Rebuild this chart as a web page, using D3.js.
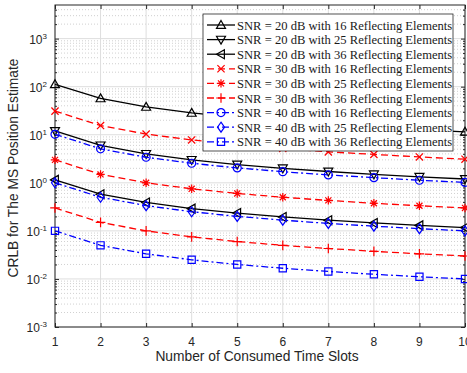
<!DOCTYPE html>
<html>
<head>
<meta charset="utf-8">
<script src="https://cdn.jsdelivr.net/npm/d3@7"></script>
<style>
  body { margin: 0; background: #fff; }
  svg { display: block; }
</style>
</head>
<body>
<svg id="chart"></svg>
<script>
// chart size
var width = 467;
var height = 373;

// data
var slots = [1, 2, 3, 4, 5, 6, 7, 8, 9, 10];
var snr20_16 = [112, 57, 38, 28.5, 23, 19, 16.3, 14.3, 12.7, 11.5];
var snr20_25 = [12, 6.0, 4.0, 3.0, 2.4, 2.0, 1.72, 1.5, 1.33, 1.2];
var snr20_36 = [1.15, 0.58, 0.39, 0.29, 0.235, 0.195, 0.167, 0.146, 0.13, 0.117];
var snr30_16 = [31, 15.5, 10.3, 7.8, 6.2, 5.2, 4.4, 3.9, 3.45, 3.1];
var snr30_25 = [3.0, 1.5, 1.0, 0.75, 0.6, 0.5, 0.43, 0.375, 0.333, 0.3];
var snr30_36 = [0.3, 0.15, 0.1, 0.075, 0.06, 0.05, 0.043, 0.0375, 0.0333, 0.03];
var snr40_16 = [10.2, 5.1, 3.4, 2.55, 2.04, 1.7, 1.46, 1.28, 1.13, 1.02];
var snr40_25 = [1.0, 0.5, 0.335, 0.25, 0.2, 0.167, 0.143, 0.125, 0.111, 0.1];
var snr40_36 = [0.1, 0.05, 0.0333, 0.025, 0.02, 0.0167, 0.0143, 0.0125, 0.0111, 0.01];
var yTicks = [1e-3, 1e-2, 1e-1, 1e0, 1e1, 1e2, 1e3];
var yExp = ["-3", "-2", "-1", "0", "1", "2", "3"];

var series = [
  {name: "SNR = 20 dB with 16 Reflecting Elements", values: snr20_16, color: "#000", dash: null, marker: "triUp"},
  {name: "SNR = 20 dB with 25 Reflecting Elements", values: snr20_25, color: "#000", dash: null, marker: "triDown"},
  {name: "SNR = 20 dB with 36 Reflecting Elements", values: snr20_36, color: "#000", dash: null, marker: "triLeft"},
  {name: "SNR = 30 dB with 16 Reflecting Elements", values: snr30_16, color: "#ff0000", dash: "7,4", marker: "cross"},
  {name: "SNR = 30 dB with 25 Reflecting Elements", values: snr30_25, color: "#ff0000", dash: "7,4", marker: "star"},
  {name: "SNR = 30 dB with 36 Reflecting Elements", values: snr30_36, color: "#ff0000", dash: "7,4", marker: "plus"},
  {name: "SNR = 40 dB with 16 Reflecting Elements", values: snr40_16, color: "#0000ff", dash: "7,3,2,3", marker: "circle"},
  {name: "SNR = 40 dB with 25 Reflecting Elements", values: snr40_25, color: "#0000ff", dash: "7,3,2,3", marker: "diamond"},
  {name: "SNR = 40 dB with 36 Reflecting Elements", values: snr40_36, color: "#0000ff", dash: "7,3,2,3", marker: "square"}
];

// plot box
var pL = 55, pR = 465, pT = 5, pB = 327;

var svg = d3.select("#chart")
    .attr("width", width)
    .attr("height", height);

var x = d3.scaleLinear().domain([1, 10]).range([pL, pR]);
var y = d3.scaleLog().domain([1e-3, 5e3]).range([pB, pT]);

// minor grid (dotted)
var minor = [];
for (var e = -3; e <= 3; e++) {
  for (var m = 2; m <= 9; m++) {
    var v = m * Math.pow(10, e);
    if (v < 5e3) minor.push(v);
  }
}
svg.append("g").selectAll("line").data(minor).enter().append("line")
    .attr("x1", pL).attr("x2", pR)
    .attr("y1", d => y(d)).attr("y2", d => y(d))
    .attr("stroke", "#c4c4c4").attr("stroke-width", 0.8)
    .attr("stroke-dasharray", "1,2");

// major grid
svg.append("g").selectAll("line").data(yTicks).enter().append("line")
    .attr("x1", pL).attr("x2", pR)
    .attr("y1", d => y(d)).attr("y2", d => y(d))
    .attr("stroke", "#dedede").attr("stroke-width", 1);
svg.append("g").selectAll("line").data(slots).enter().append("line")
    .attr("x1", d => x(d)).attr("x2", d => x(d))
    .attr("y1", pT).attr("y2", pB)
    .attr("stroke", "#dedede").attr("stroke-width", 1);

// axes (ticks inside, MATLAB style)
var axisColor = "#262626";
function styleAxis(g) {
  g.select(".domain").remove();
  g.selectAll(".tick line").attr("stroke", axisColor);
  g.selectAll("text").remove();
}
svg.append("g").attr("transform", "translate(0," + pB + ")")
    .call(d3.axisTop(x).tickValues(slots).tickSize(4)).call(styleAxis);
svg.append("g").attr("transform", "translate(0," + pT + ")")
    .call(d3.axisBottom(x).tickValues(slots).tickSize(4)).call(styleAxis);
svg.append("g").attr("transform", "translate(" + pL + ",0)")
    .call(d3.axisRight(y).tickValues(yTicks).tickSize(4)).call(styleAxis);
svg.append("g").attr("transform", "translate(" + pR + ",0)")
    .call(d3.axisLeft(y).tickValues(yTicks).tickSize(4)).call(styleAxis);
svg.append("g").attr("transform", "translate(" + pL + ",0)")
    .call(d3.axisRight(y).tickValues(minor).tickSize(2)).call(styleAxis);
svg.append("g").attr("transform", "translate(" + pR + ",0)")
    .call(d3.axisLeft(y).tickValues(minor).tickSize(2)).call(styleAxis);

svg.append("rect")
    .attr("x", pL).attr("y", pT)
    .attr("width", pR - pL).attr("height", pB - pT)
    .attr("fill", "none").attr("stroke", axisColor).attr("stroke-width", 1);

// tick labels
svg.append("g").selectAll("text").data(slots).enter().append("text")
    .attr("x", d => x(d)).attr("y", pB + 19)
    .attr("text-anchor", "middle")
    .attr("font-family", "Liberation Sans, Arial, sans-serif")
    .attr("font-size", 12).attr("fill", axisColor)
    .text(d => d);

var yl = svg.append("g").selectAll("text").data(yTicks).enter().append("text")
    .attr("x", pL - 8).attr("y", d => y(d) + 5)
    .attr("text-anchor", "end")
    .attr("font-family", "Liberation Sans, Arial, sans-serif")
    .attr("font-size", 12).attr("fill", axisColor);
yl.append("tspan").text("10");
yl.append("tspan").attr("dy", -5).attr("font-size", 8).text((d, i) => yExp[i]);

// axis titles
svg.append("text")
    .attr("x", (pL + pR) / 2 - 3).attr("y", 361)
    .attr("text-anchor", "middle")
    .attr("font-family", "Liberation Sans, Arial, sans-serif")
    .attr("font-size", 13.8).attr("fill", axisColor)
    .text("Number of Consumed Time Slots");
svg.append("text")
    .attr("transform", "translate(18,168) rotate(-90)")
    .attr("text-anchor", "middle")
    .attr("font-family", "Liberation Sans, Arial, sans-serif")
    .attr("font-size", 13.8).attr("fill", axisColor)
    .text("CRLB for The MS Position Estimate");

// marker shapes
function markerPath(type) {
  var r = 4.5;
  switch (type) {
    case "triUp": return "M0," + (-r) + "L" + r + "," + (r * 0.75) + "L" + (-r) + "," + (r * 0.75) + "Z";
    case "triDown": return "M0," + r + "L" + r + "," + (-r * 0.75) + "L" + (-r) + "," + (-r * 0.75) + "Z";
    case "triLeft": return "M" + (-r) + ",0L" + (r * 0.75) + "," + (-r) + "L" + (r * 0.75) + "," + r + "Z";
    case "cross": r = 3.6; return "M" + (-r) + "," + (-r) + "L" + r + "," + r + "M" + (-r) + "," + r + "L" + r + "," + (-r);
    case "star": r = 4.2; var a = r * 0.72;
      return "M" + (-r) + ",0L" + r + ",0M0," + (-r) + "L0," + r +
        "M" + (-a) + "," + (-a) + "L" + a + "," + a + "M" + (-a) + "," + a + "L" + a + "," + (-a);
    case "plus": r = 4.8; return "M" + (-r) + ",0L" + r + ",0M0," + (-r) + "L0," + r;
    case "circle": r = 4; return "M" + r + ",0A" + r + "," + r + " 0 1,1 " + (-r) + ",0A" + r + "," + r + " 0 1,1 " + r + ",0Z";
    case "diamond": r = 5; return "M0," + (-r) + "L" + (r * 0.7) + ",0L0," + r + "L" + (-r * 0.7) + ",0Z";
    case "square": r = 3.6; return "M" + (-r) + "," + (-r) + "H" + r + "V" + r + "H" + (-r) + "Z";
  }
}

var line = d3.line().x((d, i) => x(slots[i])).y(d => y(d));

series.forEach(function(s) {
  var g = svg.append("g");
  g.append("path").datum(s.values)
      .attr("d", line)
      .attr("fill", "none").attr("stroke", s.color).attr("stroke-width", 1.3)
      .attr("stroke-dasharray", s.dash);
  g.selectAll("path.mk").data(s.values).enter().append("path")
      .attr("class", "mk")
      .attr("transform", (d, i) => "translate(" + x(slots[i]) + "," + y(d) + ")")
      .attr("d", markerPath(s.marker))
      .attr("fill", "none").attr("stroke", s.color).attr("stroke-width", 1.2);
});

// legend
var lgX = 203, lgY = 14, lgW = 250, lgH = 137, rowH = 14.6;
var lg = svg.append("g");
lg.append("rect")
    .attr("x", lgX).attr("y", lgY).attr("width", lgW).attr("height", lgH)
    .attr("fill", "#fff").attr("stroke", axisColor).attr("stroke-width", 0.8);
series.forEach(function(s, i) {
  var cy = lgY + 11 + i * rowH;
  lg.append("line")
      .attr("x1", lgX + 4).attr("x2", lgX + 32)
      .attr("y1", cy).attr("y2", cy)
      .attr("stroke", s.color).attr("stroke-width", 1.3)
      .attr("stroke-dasharray", s.dash);
  lg.append("path")
      .attr("transform", "translate(" + (lgX + 18) + "," + cy + ")")
      .attr("d", markerPath(s.marker))
      .attr("fill", "none").attr("stroke", s.color).attr("stroke-width", 1.2);
  lg.append("text")
      .attr("x", lgX + 34).attr("y", cy + 4.5)
      .attr("font-family", "Liberation Serif, Times New Roman, serif")
      .attr("font-size", 12.6).attr("fill", "#1a1a1a")
      .text(s.name);
});
</script>
</body>
</html>
